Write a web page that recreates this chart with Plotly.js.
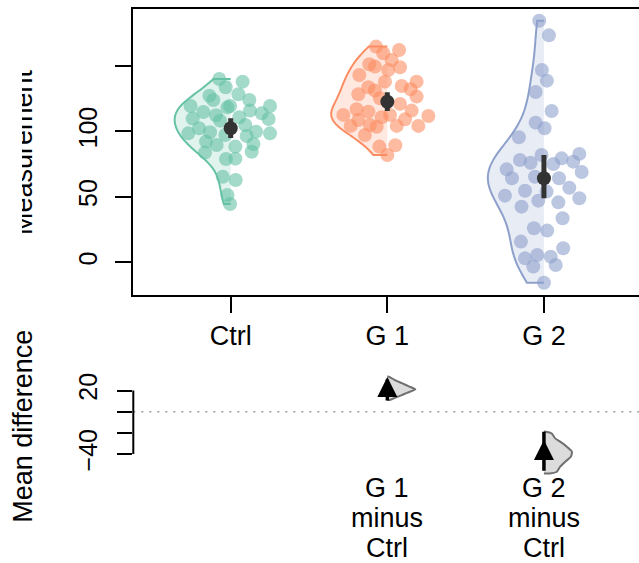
<!DOCTYPE html>
<html><head><meta charset="utf-8">
<script src="https://cdn.plot.ly/plotly-3.0.1.min.js"></script>
<style>
html,body{margin:0;padding:0;background:#fff;overflow:hidden;}
#wrap{position:relative;width:639px;height:563px;}
#top{position:absolute;left:22px;top:0;width:617px;height:563px;}
#bot{position:absolute;left:0;top:0;width:639px;height:563px;}
</style></head><body>
<div id="wrap"><div id="top"></div><div id="bot"></div></div>
<script>
// ---------- data ----------
const groups = ['Ctrl', 'G 1', 'G 2'];
const groupPos = [1, 2, 3];

const ctrlValues = [140.1, 138.0, 133.7, 128.4, 127.3, 124.0, 124.0, 119.4, 119.4, 119.4, 118.4, 115.9, 114.8, 113.8, 112.3, 109.8, 110.8, 109.5, 108.2, 104.9, 102.4, 99.3, 99.8, 98.5, 98.5, 97.3, 96.5, 92.2, 90.4, 89.6, 88.4, 83.8, 84.5, 78.9, 79.2, 65.4, 62.9, 51.4, 44.5];
const ctrlJitter = [-0.073, 0.076, -0.032, 0.049, -0.136, -0.111, 0.119, 0.251, -0.256, -0.004, -0.021, 0.123, -0.175, 0.198, -0.094, -0.243, 0.055, 0.242, -0.068, 0.093, -0.202, -0.132, 0.162, -0.271, 0.251, -0.034, 0.102, -0.158, 0.145, -0.090, 0.030, -0.164, 0.134, -0.030, 0.030, -0.051, 0.032, -0.021, -0.004];

const g1Values = [164.8, 162.2, 159.7, 154.6, 151.3, 149.5, 149.0, 146.9, 143.1, 138.0, 138.0, 134.7, 133.7, 132.2, 128.4, 131.2, 126.6, 121.0, 125.3, 116.9, 115.1, 115.9, 112.6, 111.8, 112.6, 110.8, 109.2, 108.7, 104.9, 104.2, 103.6, 104.2, 104.2, 97.3, 88.4, 89.4, 82.0];
const g1Jitter = [-0.072, 0.075, -0.026, 0.028, -0.115, -0.079, 0.081, 0.006, -0.179, 0.187, -0.015, 0.092, -0.121, 0.149, -0.185, -0.079, 0.187, 0.081, -0.047, -0.196, -0.121, 0.155, -0.281, 0.262, 0.017, -0.036, 0.113, -0.185, -0.111, -0.234, -0.068, 0.060, 0.198, -0.143, -0.051, 0.051, 0.0];

const g2Values = [184.6, 173.4, 146.9, 138.8, 130.1, 115.6, 106.7, 102.4, 95.5, 82.0, 82.8, 79.4, 78.2, 76.1, 75.1, 76.9, 71.0, 69.0, 64.2, 65.4, 64.2, 57.0, 54.7, 54.0, 50.9, 48.9, 47.1, 45.8, 42.5, 33.6, 26.0, 24.2, 15.8, 10.7, 3.0, 5.6, 4.3, -3.3, -2.1, -15.6];
const g2Jitter = [-0.030, 0.032, -0.013, 0.019, -0.053, 0.049, -0.053, 0.004, -0.160, -0.015, 0.226, 0.113, -0.153, -0.085, 0.060, 0.187, -0.238, 0.241, -0.204, -0.057, 0.096, 0.162, -0.121, 0.017, -0.249, 0.226, -0.036, 0.092, -0.143, 0.119, -0.064, 0.021, -0.147, 0.123, -0.121, -0.043, 0.043, -0.068, 0.075, 0.0];

const groupMeans = [102.4, 122.7, 64.2];
const groupCiLow = [95.0, 115.5, 49.0];
const groupCiHigh = [110.0, 130.0, 82.0];

const diffLabels = ['G 1', 'G 2'];
const diffPos = [2, 3];
const diffMeans = [20.3, -39.5];
const diffCiLow = [10.5, -56.0];
const diffCiHigh = [30.5, -18.9];
// bootstrap density outlines (value, relative density)
const diffG1Y = [33.2, 30.0, 27.0, 24.0, 21.2, 18.0, 15.0, 12.0, 11.1];
const diffG1D = [0.05, 0.27, 0.52, 0.77, 1.00, 0.72, 0.45, 0.18, 0.08];
const diffG2Y = [-18.9, -20.6, -25.3, -28.4, -33.2, -37.9, -42.7, -47.4, -52.1, -56.9, -58.6];
const diffG2D = [0.07, 0.28, 0.40, 0.58, 0.82, 1.00, 0.96, 0.76, 0.58, 0.46, 0.20];

const yTicksTop = [0, 50, 100, 150];
const yTickTextTop = ['0', '50', '100', ''];
const yTicksBot = [20, 0, -20, -40];
const yTickTextBot = ['20', '', '', '\u221240'];

// ---------- style ----------
const FONT = 'Liberation Sans, Arial, Helvetica, sans-serif';
const FS = 25;     // y tick labels
const FSX = 27;    // x labels and axis titles
const lineCols = ['#66C2A5', '#FC8D62', '#8DA0CB'];
const fillCols = ['rgba(102,194,165,0.2)', 'rgba(252,141,98,0.2)', 'rgba(141,160,203,0.2)'];
const ptCols = ['rgba(102,194,165,0.6)', 'rgba(252,141,98,0.6)', 'rgba(141,160,203,0.6)'];
const H = 563;

function bwSilverman(v) {
  const n = v.length;
  const m = v.reduce((a, b) => a + b, 0) / n;
  const sd = Math.sqrt(v.reduce((a, b) => a + (b - m) * (b - m), 0) / (n - 1));
  const s = v.slice().sort((a, b) => a - b);
  const q = p => { const h = (n - 1) * p; const lo = Math.floor(h); const hi = Math.min(lo + 1, n - 1); return s[lo] + (h - lo) * (s[hi] - s[lo]); };
  const iqr = q(0.75) - q(0.25);
  return 1.06 * Math.min(sd, iqr / 1.34) * Math.pow(n, -0.2);
}

const allValues = [ctrlValues, g1Values, g2Values];
const allJitter = [ctrlJitter, g1Jitter, g2Jitter];

// ---------- top panel ----------
const tracesA = [];
allValues.forEach((vals, i) => {
  tracesA.push({
    type: 'violin', x0: groupPos[i], y: vals, side: 'negative', width: 0.716,
    scalemode: 'width', spanmode: 'hard', bandwidth: bwSilverman(vals), points: false,
    box: {visible: false}, meanline: {visible: false},
    line: {color: lineCols[i], width: 2}, fillcolor: fillCols[i], hoverinfo: 'skip'
  });
});
allValues.forEach((vals, i) => {
  tracesA.push({
    type: 'scatter', mode: 'markers',
    x: vals.map((v, k) => groupPos[i] + allJitter[i][k]), y: vals,
    marker: {size: 14, color: ptCols[i], line: {width: 0}}, hoverinfo: 'y'
  });
});
tracesA.push({
  type: 'scatter', mode: 'markers', x: groupPos, y: groupMeans,
  marker: {size: 14, color: '#333333'},
  error_y: {type: 'data', symmetric: false,
    array: groupCiHigh.map((h, i) => h - groupMeans[i]),
    arrayminus: groupCiLow.map((l, i) => groupMeans[i] - l),
    thickness: 5, width: 0, color: '#333333'}
});

const xLeftPage = 133.3;
const layoutA = {
  width: 617, height: H, margin: {l: 0, r: 0, t: 0, b: 0},
  paper_bgcolor: 'rgba(0,0,0,0)', plot_bgcolor: 'rgba(0,0,0,0)',
  showlegend: false, violinmode: 'overlay',
  font: {family: FONT, size: FS, color: '#000'},
  xaxis: {type: 'linear', domain: [(xLeftPage - 22) / 617, 1], range: [0.378, 3.607],
    tickvals: groupPos, ticktext: groups, ticks: 'outside', ticklen: 16, tickwidth: 2,
    tickcolor: '#000', showline: true, mirror: true, linewidth: 2, linecolor: '#000',
    showgrid: false, zeroline: false, tickfont: {size: FSX}},
  yaxis: {domain: [1 - 295 / H, 1 - 9.3 / H], range: [-25, 193.3],
    tickvals: yTicksTop, ticktext: yTickTextTop, tickangle: -90, ticks: 'outside',
    ticklen: 16, tickwidth: 2, tickcolor: '#000', showline: true, linewidth: 2,
    linecolor: '#000', showgrid: false, zeroline: false, tickfont: {size: FS},
    ticklabelstandoff: 8},
  annotations: [{text: 'Measurement', textangle: -90, xref: 'paper', yref: 'paper',
    x: 0, xanchor: 'center', xshift: 23.0 - 22, y: 1 - 152 / H, yanchor: 'middle',
    showarrow: false, font: {size: FSX}}]
};

// ---------- bottom panel ----------
const halfW = 0.179;
function outline(pos, ys, ds) {
  const x = [pos].concat(ds.map(d => pos + d * halfW)).concat([pos]);
  const y = [ys[0]].concat(ys).concat([ys[ys.length - 1]]);
  return {x, y};
}
const o1 = outline(diffPos[0], diffG1Y, diffG1D);
const o2 = outline(diffPos[1], diffG2Y, diffG2D);
const tracesB = [o1, o2].map(o => ({
  type: 'scatter', mode: 'lines', x: o.x, y: o.y, fill: 'toself',
  fillcolor: '#DCDCDC', line: {color: '#707070', width: 2, shape: 'spline', smoothing: 0.5},
  hoverinfo: 'skip'
}));
tracesB.push({
  type: 'scatter', mode: 'markers', x: diffPos, y: diffMeans,
  marker: {symbol: 'arrow-down', angle: 180, size: 20, standoff: 13.33, color: '#000'},
  error_y: {type: 'data', symmetric: false,
    array: diffCiHigh.map((h, i) => h - diffMeans[i]),
    arrayminus: diffCiLow.map((l, i) => diffMeans[i] - l),
    thickness: 3.5, width: 0, color: '#000'}
});

const labelLines = ['minus', 'Ctrl'];
const annB = [{text: 'Mean difference', textangle: -90, xref: 'paper', yref: 'paper',
  x: 22.8 / 639, xanchor: 'center', y: 1 - 426 / H, yanchor: 'middle', showarrow: false,
  font: {size: FSX}}];
const lineCenters = [488.3, 518.3, 548.3];
diffLabels.forEach((lab, i) => {
  [lab].concat(labelLines).forEach((t, k) => {
    annB.push({text: t, xref: 'x', x: diffPos[i], yref: 'paper', y: 1 - lineCenters[k] / H,
      xanchor: 'center', yanchor: 'middle', showarrow: false, font: {size: FSX}});
  });
});

const layoutB = {
  width: 639, height: H, margin: {l: 0, r: 0, t: 0, b: 0},
  paper_bgcolor: 'rgba(0,0,0,0)', plot_bgcolor: 'rgba(0,0,0,0)',
  showlegend: false, font: {family: FONT, size: FS, color: '#000'},
  xaxis: {type: 'linear', domain: [xLeftPage / 639, 1], range: [0.378, 3.607],
    showticklabels: false, ticks: '', showline: false, showgrid: false, zeroline: false},
  yaxis: {domain: [1 - 480.3 / H, 1 - 373.7 / H], range: [-65, 36],
    tickvals: yTicksBot, ticktext: yTickTextBot, tickangle: -90, ticks: 'outside',
    ticklen: 15, tickwidth: 2, tickcolor: '#000', showline: false, showgrid: false,
    zeroline: false, tickfont: {size: FS}, ticklabelstandoff: 10},
  shapes: [
    {type: 'line', xref: 'x domain', x0: 0, x1: 0, yref: 'y', y0: -40, y1: 20,
      line: {color: '#000', width: 2}},
    {type: 'line', xref: 'x domain', x0: 0, x1: 1, yref: 'y', y0: 0, y1: 0, layer: 'below',
      line: {color: '#999999', width: 1.5, dash: '2px,6px'}}
  ],
  annotations: annB
};

const cfg = {displayModeBar: false, staticPlot: true};
Plotly.newPlot('top', tracesA, layoutA, cfg);
Plotly.newPlot('bot', tracesB, layoutB, cfg);
</script>
</body></html>
